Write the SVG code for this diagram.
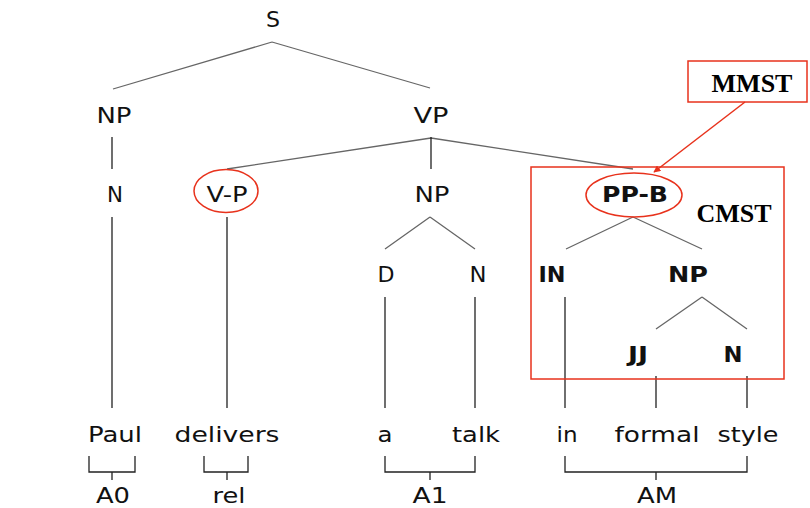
<svg xmlns="http://www.w3.org/2000/svg" width="810" height="508" viewBox="0 0 810 508">
<defs>
<style>
.t{font-family:"DejaVu Sans",sans-serif;font-size:22px;fill:#111;text-anchor:middle}
.b{font-weight:bold}
.tm{font-family:"Liberation Serif",serif;font-weight:bold;font-size:26px;fill:#000;text-anchor:middle}
.dg{stroke:#666;stroke-width:1.3;fill:none}
.v{stroke:#222;stroke-width:1.3;fill:none}
.red{stroke:#e8321c;stroke-width:1.5;fill:none}
</style>
<marker id="ah" viewBox="0 0 10 10" refX="9" refY="5" markerWidth="7" markerHeight="7" orient="auto" markerUnits="userSpaceOnUse">
<path d="M0,0 L10,5 L0,10 z" fill="#e8321c"/>
</marker>
</defs>
<rect width="810" height="508" fill="#fff"/>
<g id="connectors">
<path class="dg" d="M272,42 L113,89 M272,42 L430,88"/>
<path class="v" d="M112,137 V169 M112,217 V408"/>
<path class="dg" d="M431,138 L227,169 M431,138 L633,169"/>
<path class="v" d="M431,137 V169 M227,217 V408"/>
<path class="dg" d="M430,217 L385,249 M430,217 L475,249"/>
<path class="v" d="M385,297 V408 M475,297 V408"/>
<path class="dg" d="M633,217 L566,249 M633,217 L702,249"/>
<path class="v" d="M565,297 V408"/>
<path class="dg" d="M702,297 L656,329 M702,297 L747,329"/>
<path class="v" d="M656,376 V408 M747,376 V408"/>
<path class="v" d="M89,456 V472 H135 V456 M112,472 V480"/>
<path class="v" d="M204,456 V472 H248 V456 M227,472 V480"/>
<path class="v" d="M385,456 V472 H475 V456 M430,472 V480"/>
<path class="v" d="M565,456 V472 H747 V456 M656,472 V480"/>
<path class="red" d="M745,102 L654,172" marker-end="url(#ah)"/>
</g>
<g id="cmst-box"><rect class="red" x="531" y="167" width="253" height="212"/><text class="tm" x="734" y="222">CMST</text></g>
<g id="mmst"><rect class="red" x="688" y="61" width="119" height="41"/><text class="tm" x="752" y="92">MMST</text></g>
<g id="n-S"><text class="t" x="273" y="27" textLength="14" lengthAdjust="spacingAndGlyphs">S</text></g>
<g id="n-NP1"><text class="t" x="114" y="123" textLength="35" lengthAdjust="spacingAndGlyphs">NP</text></g>
<g id="n-VP"><text class="t" x="431" y="123" textLength="35" lengthAdjust="spacingAndGlyphs">VP</text></g>
<g id="n-N1"><text class="t" x="115" y="202" textLength="16" lengthAdjust="spacingAndGlyphs">N</text></g>
<g id="n-VP2"><ellipse class="red" cx="226" cy="191" rx="32" ry="21.5"/><text class="t" x="227" y="202" textLength="41" lengthAdjust="spacingAndGlyphs">V-P</text></g>
<g id="n-NP2"><text class="t" x="432" y="202" textLength="35" lengthAdjust="spacingAndGlyphs">NP</text></g>
<g id="n-PPB"><ellipse class="red" cx="634" cy="195" rx="48" ry="22"/><text class="t b" x="635" y="202" textLength="66" lengthAdjust="spacingAndGlyphs">PP-B</text></g>
<g id="n-D"><text class="t" x="386" y="282" textLength="17" lengthAdjust="spacingAndGlyphs">D</text></g>
<g id="n-N2"><text class="t" x="478" y="282" textLength="17" lengthAdjust="spacingAndGlyphs">N</text></g>
<g id="n-IN"><text class="t b" x="552" y="282" textLength="27" lengthAdjust="spacingAndGlyphs">IN</text></g>
<g id="n-NP3"><text class="t b" x="688" y="282" textLength="40" lengthAdjust="spacingAndGlyphs">NP</text></g>
<g id="n-JJ"><text class="t b" x="638" y="362" textLength="20" lengthAdjust="spacingAndGlyphs">JJ</text></g>
<g id="n-N3"><text class="t b" x="733" y="362" textLength="19" lengthAdjust="spacingAndGlyphs">N</text></g>
<g id="w-Paul"><text class="t" x="115" y="442" textLength="54" lengthAdjust="spacingAndGlyphs">Paul</text></g>
<g id="w-delivers"><text class="t" x="227" y="442" textLength="105" lengthAdjust="spacingAndGlyphs">delivers</text></g>
<g id="w-a"><text class="t" x="385" y="442" textLength="15" lengthAdjust="spacingAndGlyphs">a</text></g>
<g id="w-talk"><text class="t" x="476" y="442" textLength="48" lengthAdjust="spacingAndGlyphs">talk</text></g>
<g id="w-in"><text class="t" x="567" y="442" textLength="21" lengthAdjust="spacingAndGlyphs">in</text></g>
<g id="w-formal"><text class="t" x="657" y="442" textLength="85" lengthAdjust="spacingAndGlyphs">formal</text></g>
<g id="w-style"><text class="t" x="748" y="442" textLength="61" lengthAdjust="spacingAndGlyphs">style</text></g>
<g id="l-A0"><text class="t" x="113" y="503" textLength="34" lengthAdjust="spacingAndGlyphs">A0</text></g>
<g id="l-rel"><text class="t" x="229" y="503" textLength="33" lengthAdjust="spacingAndGlyphs">rel</text></g>
<g id="l-A1"><text class="t" x="430" y="503" textLength="35" lengthAdjust="spacingAndGlyphs">A1</text></g>
<g id="l-AM"><text class="t" x="657" y="503" textLength="40" lengthAdjust="spacingAndGlyphs">AM</text></g>
</svg>
